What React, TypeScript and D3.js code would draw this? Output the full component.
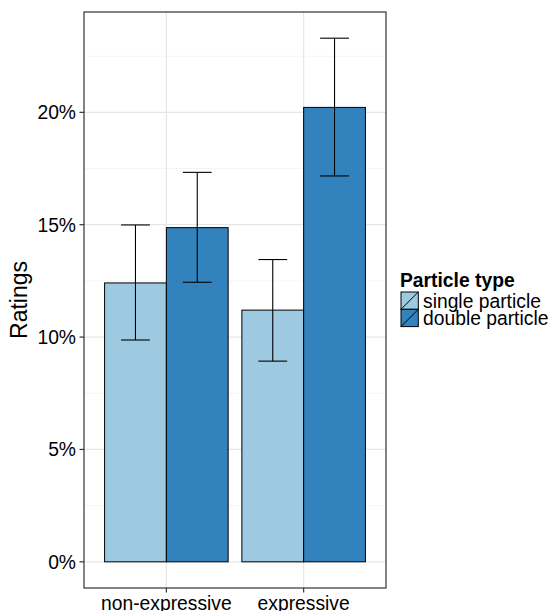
import React from "react";
import * as d3 from "d3";

const categories = ["non-expressive", "expressive"];
const seriesNames = ["single particle", "double particle"];
const seriesColors = ["#9ecae1", "#3182bd"];
// values in %
const singleValues = [12.41, 11.2];
const doubleValues = [14.87, 20.22];
const singleLow = [9.87, 8.93];
const singleHigh = [14.99, 13.45];
const doubleLow = [12.44, 17.17];
const doubleHigh = [17.33, 23.3];
const yTicks = [0, 5, 10, 15, 20];
const yMinorTicks = [2.5, 7.5, 12.5, 17.5, 22.5];

const W = 552;
const H = 611;
const P = { left: 84, right: 386, top: 12, bottom: 588 };
const FONT = "'Liberation Sans', Arial, Helvetica, sans-serif";

export default function App() {
  const x = d3.scalePoint<string>().domain(categories).range([P.left, P.right]).padding(0.6);
  const unit = x.step();
  const dataMax = d3.max(doubleHigh.concat(singleHigh)) as number;
  const exp = dataMax * 0.05;
  const y = d3.scaleLinear().domain([-exp, dataMax + exp]).range([P.bottom, P.top]);

  const series = [
    { vals: singleValues, lo: singleLow, hi: singleHigh },
    { vals: doubleValues, lo: doubleLow, hi: doubleHigh },
  ];
  const barW = 0.45 * unit;
  const capW = 0.21 * unit;

  const keySize = 17.3;
  const legendX = 401;
  const legendY = 292;

  return (
    <svg width={W} height={H} style={{ position: "absolute", left: 0, top: 0 }} fontFamily={FONT}>
      <rect x={0} y={0} width={W} height={H} fill="#fff" />
      {/* grid */}
      {yMinorTicks.map((t) => (
        <line key={"m" + t} x1={P.left} x2={P.right} y1={y(t)} y2={y(t)} stroke="#f2f2f2" strokeWidth={0.8} />
      ))}
      {yTicks.map((t) => (
        <line key={"g" + t} x1={P.left} x2={P.right} y1={y(t)} y2={y(t)} stroke="#e6e6e6" strokeWidth={1.2} />
      ))}
      {categories.map((c) => (
        <line key={"v" + c} x1={x(c)} x2={x(c)} y1={P.top} y2={P.bottom} stroke="#e6e6e6" strokeWidth={1.2} />
      ))}
      {/* bars */}
      {categories.map((c, i) =>
        series.map((s, j) => {
          const x0 = (x(c) as number) - barW + j * barW;
          return (
            <rect
              key={c + j}
              x={x0}
              y={y(s.vals[i])}
              width={barW}
              height={y(0) - y(s.vals[i])}
              fill={seriesColors[j]}
              stroke="#000"
              strokeWidth={1}
            />
          );
        })
      )}
      {/* error bars */}
      {categories.map((c, i) =>
        series.map((s, j) => {
          const cx = (x(c) as number) - barW / 2 + j * barW;
          return (
            <g key={"e" + c + j} stroke="#000" strokeWidth={1.1}>
              <line x1={cx} x2={cx} y1={y(s.lo[i])} y2={y(s.hi[i])} />
              <line x1={cx - capW / 2} x2={cx + capW / 2} y1={y(s.lo[i])} y2={y(s.lo[i])} />
              <line x1={cx - capW / 2} x2={cx + capW / 2} y1={y(s.hi[i])} y2={y(s.hi[i])} />
            </g>
          );
        })
      )}
      {/* panel border */}
      <rect x={P.left} y={P.top} width={P.right - P.left} height={P.bottom - P.top} fill="none" stroke="#333" strokeWidth={1.2} />
      {/* y axis */}
      {yTicks.map((t) => (
        <g key={"yt" + t}>
          <line x1={P.left - 4.5} x2={P.left} y1={y(t)} y2={y(t)} stroke="#333" strokeWidth={1.2} />
          <text x={P.left - 8} y={y(t)} dy="0.36em" textAnchor="end" fontSize={19.3} fill="#000">
            {t + "%"}
          </text>
        </g>
      ))}
      {/* x axis */}
      {categories.map((c) => (
        <g key={"xt" + c}>
          <line x1={x(c)} x2={x(c)} y1={P.bottom} y2={P.bottom + 4.5} stroke="#333" strokeWidth={1.2} />
          <text x={x(c)} y={610} textAnchor="middle" fontSize={19.3} fill="#000">
            {c}
          </text>
        </g>
      ))}
      <text
        transform={`translate(27,${(P.top + P.bottom) / 2}) rotate(-90)`}
        textAnchor="middle"
        fontSize={23}
        fill="#000"
      >
        Ratings
      </text>
      {/* legend */}
      <text x={400} y={287} fontSize={19.3} fontWeight="bold" fill="#000">
        Particle type
      </text>
      {seriesNames.map((n, j) => {
        const ky = legendY + j * keySize;
        return (
          <g key={"lg" + n}>
            <rect x={legendX} y={ky} width={keySize} height={keySize} fill={seriesColors[j]} stroke="#000" strokeWidth={1} />
            <line x1={legendX} y1={ky + keySize} x2={legendX + keySize} y2={ky} stroke="#000" strokeWidth={1} />
            <text x={423} y={ky + keySize / 2} dy="0.36em" fontSize={19.3} fill="#000">
              {n}
            </text>
          </g>
        );
      })}
    </svg>
  );
}
